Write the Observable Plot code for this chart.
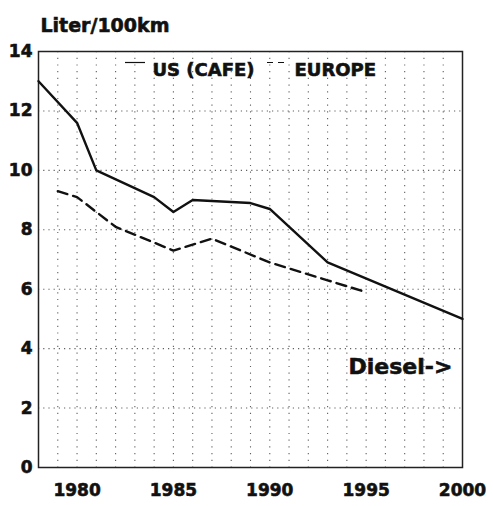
<!DOCTYPE html>
<html>
<head>
<meta charset="utf-8">
<script src="https://cdn.jsdelivr.net/npm/d3@7"></script>
<script src="https://cdn.jsdelivr.net/npm/@observablehq/plot@0.6"></script>
<style>
  html, body { margin: 0; padding: 0; background: #fff; }
  .fuel text { stroke: #111; stroke-width: 0.6px; paint-order: stroke; }
</style>
</head>
<body>
<div id="chart"></div>
<script>
// Data
const usYears = [1978, 1980, 1981, 1984, 1985, 1986, 1989, 1990, 1993, 2000];
const usValues = [13.0, 11.6, 10.0, 9.1, 8.6, 9.0, 8.9, 8.7, 6.9, 5.0];
const euYears = [1979, 1980, 1982, 1985, 1987, 1990, 1993, 1995];
const euValues = [9.3, 9.1, 8.1, 7.3, 7.7, 6.9, 6.3, 5.9];
const xTicks = [1980, 1985, 1990, 1995, 2000];
const yTicks = [0, 2, 4, 6, 8, 10, 12, 14];
const gridYears = d3.range(1979, 2000);
const gridValues = [2, 4, 6, 8, 10, 12];
const titleText = "Liter/100km";
const seriesLabels = ["US (CAFE)", "EUROPE"];
const noteText = "Diesel->";

const us = usYears.map((x, i) => ({x, y: usValues[i]}));
const eu = euYears.map((x, i) => ({x, y: euValues[i]}));

const font = "'DejaVu Sans', sans-serif";
const ink = "#111";

const legendSwatches = (index, scales, values, dims) => {
  const g = d3.create("svg:g");
  const y = dims.marginTop + 11.5;
  g.append("line")
    .attr("x1", dims.marginLeft + 87).attr("x2", dims.marginLeft + 107)
    .attr("y1", y).attr("y2", y)
    .attr("stroke", ink).attr("stroke-width", 1.2);
  g.append("line")
    .attr("x1", dims.marginLeft + 229).attr("x2", dims.marginLeft + 250)
    .attr("y1", y).attr("y2", y)
    .attr("stroke", ink).attr("stroke-width", 1.2)
    .attr("stroke-dasharray", "6,5");
  return g.node();
};

const chart = Plot.plot({
  width: 493,
  height: 506,
  marginLeft: 38,
  marginRight: 31,
  marginTop: 51,
  marginBottom: 39,
  className: "fuel",
  style: {fontFamily: font, fontSize: "17px", fontWeight: "bold", color: ink, background: "#fff"},
  x: {domain: [1978, 2000], ticks: xTicks, tickFormat: d => String(d), tickSize: 0, tickPadding: 16, label: null},
  y: {domain: [0, 14], ticks: yTicks, tickSize: 0, tickPadding: 6, label: null},
  marks: [
    Plot.ruleX(gridYears, {stroke: "#444", strokeWidth: 1.1, strokeDasharray: "1.2,5.5", strokeOpacity: 0.85}),
    Plot.ruleY(gridValues, {stroke: "#444", strokeWidth: 1.1, strokeDasharray: "1.2,4", strokeOpacity: 0.85}),
    Plot.frame({stroke: "#222", strokeWidth: 1.5}),
    Plot.line(us, {x: "x", y: "y", stroke: ink, strokeWidth: 2.4}),
    Plot.line(eu, {x: "x", y: "y", stroke: ink, strokeWidth: 2.4, strokeDasharray: "10,6"}),
    Plot.text([titleText], {text: d => d, frameAnchor: "top-left", textAnchor: "start", lineAnchor: "bottom", dx: 2, dy: -20, fontSize: 19, fontWeight: "bold", fill: ink}),
    Plot.text([seriesLabels[0]], {text: d => d, frameAnchor: "top-left", textAnchor: "start", lineAnchor: "bottom", dx: 114, dy: 24, fontSize: 18, fontWeight: "bold", fill: ink}),
    Plot.text([seriesLabels[1]], {text: d => d, frameAnchor: "top-left", textAnchor: "start", lineAnchor: "bottom", dx: 256, dy: 24, fontSize: 18, fontWeight: "bold", fill: ink}),
    legendSwatches,
    Plot.text([noteText], {text: d => d, frameAnchor: "top-left", textAnchor: "start", lineAnchor: "bottom", dx: 310, dy: 322, fontSize: 22, fontWeight: "bold", fill: ink})
  ]
});
document.getElementById("chart").appendChild(chart);
</script>
</body>
</html>
